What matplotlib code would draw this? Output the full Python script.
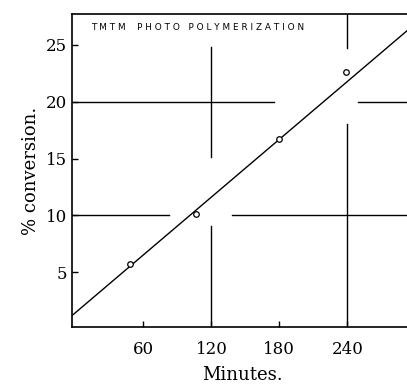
import numpy as np
import matplotlib.pyplot as plt

# measured points (minutes, % conversion)
minutes = [48, 106, 180, 239]
conversion = [5.7, 10.1, 16.7, 22.6]

# straight line drawn through the points
fit_x = [-3, 297]
fit_y = [1.2, 26.6]

# broken graph-paper lines: (value, start, end)
hlines = [(20, -3, 175), (20, 249, 297), (10, -3, 83), (10, 138, 297)]
vlines = [(120, 15.1, 24.8), (120, 0, 9.1), (240, 24.7, 27.7), (240, 0, 18.0)]

xticks = [60, 120, 180, 240]
yticks = [5, 10, 15, 20, 25]

plt.rcParams['font.family'] = 'DejaVu Serif'
fig = plt.figure(figsize=(4.07, 3.92), dpi=100)
ax = fig.add_axes([0.177, 0.166, 0.835, 0.798])
ax.set_xlim(-3, 297)
ax.set_ylim(0.2, 27.7)

for y, a, b in hlines:
    ax.plot([a, b], [y, y], color='black', lw=1.0)
for x, a, b in vlines:
    ax.plot([x, x], [a, b], color='black', lw=1.0)

ax.plot(fit_x, fit_y, color='black', lw=1.0)
ax.plot(minutes, conversion, 'o', mfc='white', mec='black', ms=4, mew=0.9)

ax.text(14, 26.5, 'T M T M    P H O T O   P O L Y M E R I Z A T I O N',
        family='DejaVu Sans', fontsize=6.4, va='center')

ax.set_xticks(xticks)
ax.set_yticks(yticks)
ax.tick_params(direction='in', length=4, labelsize=12, width=1.0)
ax.tick_params(axis='x', pad=10)
ax.spines['right'].set_visible(False)
for s in ['left', 'top', 'bottom']:
    ax.spines[s].set_linewidth(1.2)
ax.set_xlabel('Minutes.', fontsize=13, labelpad=6)
ax.set_ylabel('% conversion.', fontsize=13)

plt.savefig('out.png', dpi=100)
